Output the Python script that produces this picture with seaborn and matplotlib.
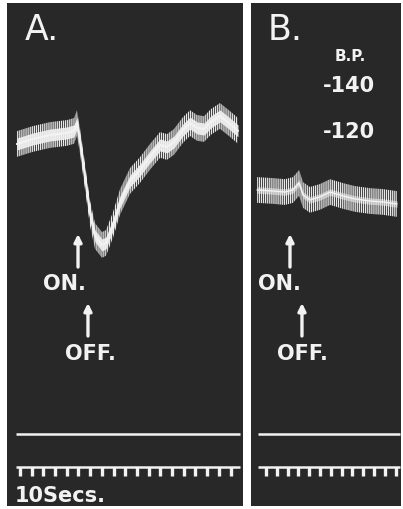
import matplotlib
matplotlib.use("Agg")
import matplotlib.pyplot as plt
import seaborn as sns

# Panel A trace: time (s) and blood pressure (mm Hg)
time_a = [-2.6, 11.1, 25.6, 40.2, 46.2, 48.7, 51.3, 55.6, 59.8, 64.1, 70.1, 73.5,
          79.5, 85.5, 94.0, 102.6, 111.1, 119.7, 125.6, 131.6, 139.3, 145.3,
          151.3, 157.3, 163.2, 170.9, 179.5, 186.3]
bp_a = [113.9, 116.1, 117.8, 118.7, 119.6, 123.0, 115.2, 99.6, 83.9, 73.9, 70.0, 70.9,
        78.7, 88.7, 97.8, 102.6, 108.3, 113.5, 112.6, 114.8, 120.0, 123.0,
        120.9, 120.4, 123.5, 126.1, 122.6, 119.6]

# Panel B trace
time_b = [-8.3, 5.6, 17.6, 25.0, 30.6, 34.3, 40.7, 50.0, 59.3, 71.3, 82.4, 96.3, 108.3, 121.3]
bp_b = [93.9, 93.5, 93.0, 93.9, 97.0, 91.7, 89.6, 90.9, 93.0, 91.3, 90.0, 89.1, 88.7, 87.8]

# stimulus on / off times (s)
stim_a = {"ON.": 49.6, "OFF.": 58.1}
stim_b = {"ON.": 22.2, "OFF.": 33.3}

# time marker ticks (every 10 s)
marks_a = list(range(0, 181, 10))
marks_b = list(range(0, 121, 10))

# blood pressure scale
bp_scale = [140, 120]
bp_labels = ["-140", "-120"]

sns.set_style("dark")
plt.rcParams["font.family"] = ["DejaVu Sans"]
plt.rcParams["hatch.color"] = "#e8e8e8"
plt.rcParams["hatch.linewidth"] = 0.9

BG = "#282828"
FG = "#f2f2f2"

fig = plt.figure(figsize=(4.03, 5.10), dpi=100)
fig.patch.set_facecolor("white")
ax_a = fig.add_axes([7 / 403, 3 / 510, 236 / 403, 503 / 510])
ax_b = fig.add_axes([251 / 403, 3 / 510, 150 / 403, 503 / 510])

ax_a.set_xlim(-11.1, 190.6)
ax_b.set_xlim(-13.9, 125.0)


def draw_trace(ax, t, p, band, core, core_alpha, lw):
    lo = [v - band for v in p]
    hi = [v + band for v in p]
    ax.fill_between(t, lo, hi, facecolor="none", edgecolor="#e8e8e8",
                    hatch="|" * 8, linewidth=0)
    ax.fill_between(t, [v - core for v in p], [v + core for v in p],
                    color=FG, alpha=core_alpha, linewidth=0)
    sns.lineplot(x=t, y=p, ax=ax, color=FG, lw=lw, sort=False)


def draw_common(ax, stim, marks, line_x, on_dx, off_dx):
    tr = ax.get_xaxis_transform()
    for label, t0 in stim.items():
        if label == "ON.":
            head, tail, ty, dx = 0.5408, 0.4751, 0.4314, on_dx
        else:
            head, tail, ty, dx = 0.4036, 0.338, 0.2922, off_dx
        ax.annotate("", xy=(t0, head), xytext=(t0, tail), xycoords=tr, textcoords=tr,
                    arrowprops=dict(arrowstyle="-|>", color=FG, lw=2.4,
                                    mutation_scale=11, shrinkA=0, shrinkB=0))
        ax.text(t0 + dx, ty, label, transform=tr, color=FG, fontsize=15,
                fontweight="bold", ha="left", va="baseline")
    ax.plot(line_x, [0.144, 0.144], transform=tr, color=FG, lw=1.8,
            solid_capstyle="butt")
    ax.plot(line_x, [0.0775, 0.0775], transform=tr, color=FG, lw=1.8,
            solid_capstyle="butt")
    ax.vlines(marks, 0.0596, 0.0775, transform=tr, color=FG, lw=2.4)
    ax.set_ylim(-43.5, 175.2)
    ax.set_facecolor(BG)
    ax.set_xticks([])
    ax.set_yticks([])
    ax.set_xlabel("")
    ax.set_ylabel("")
    for s in ax.spines.values():
        s.set_visible(False)


draw_trace(ax_a, time_a, bp_a, 5.6, 2.6, 0.9, 1.6)
draw_trace(ax_b, time_b, bp_b, 5.6, 1.4, 0.55, 1.0)

draw_common(ax_a, stim_a, marks_a, [-3.4, 188.0], -30.0, -19.6)
draw_common(ax_b, stim_b, marks_b, [-7.4, 124.0], -29.6, -23.1)

tra = ax_a.get_xaxis_transform()
trb = ax_b.get_xaxis_transform()
ax_a.text(4.3, 0.9284, "A.", transform=tra, color=FG, fontsize=25,
          ha="left", va="baseline")
ax_b.text(1.9, 0.9284, "B.", transform=trb, color=FG, fontsize=25,
          ha="left", va="baseline")
ax_a.text(-4.3, 0.0099, "10Secs.", transform=tra, color=FG, fontsize=15,
          fontweight="bold", ha="left", va="baseline")
ax_b.text(63.9, 0.8867, "B.P.", transform=trb, color=FG, fontsize=11,
          fontweight="bold", ha="left", va="baseline")
for v, lab in zip(bp_scale, bp_labels):
    ax_b.text(52.8, v - 3.2, lab, color=FG, fontsize=15, fontweight="bold",
              ha="left", va="baseline")

fig.savefig("out.png", dpi=100, facecolor="white")
